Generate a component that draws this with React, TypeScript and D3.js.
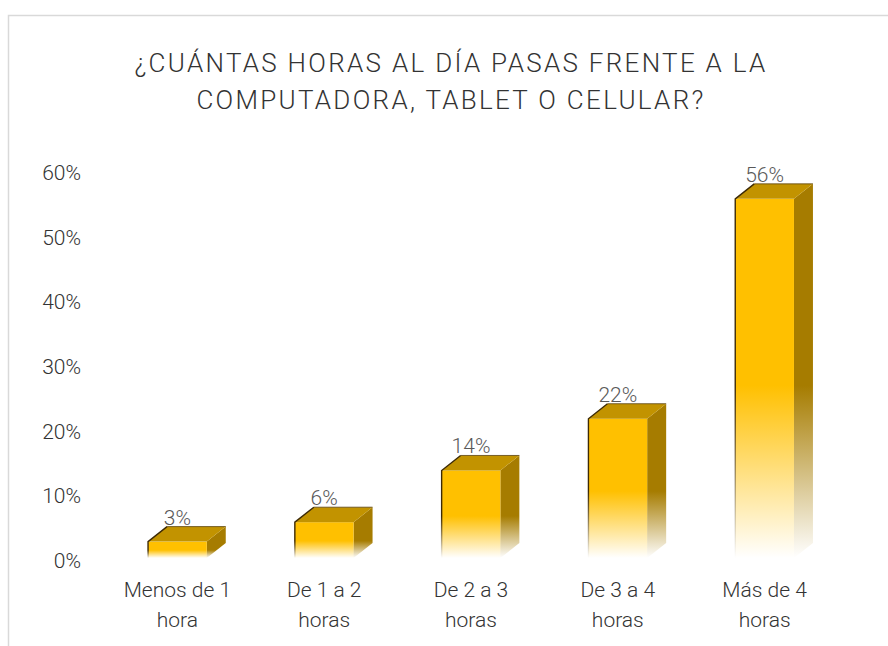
import { useEffect, useRef } from 'react'
import * as d3 from 'd3'

const categories = ['Menos de 1|hora', 'De 1 a 2|horas', 'De 2 a 3|horas', 'De 3 a 4|horas', 'Más de 4|horas']
const values = [0.03, 0.06, 0.14, 0.22, 0.56]
const yTicks = [0, 0.1, 0.2, 0.3, 0.4, 0.5, 0.6]
const titleLines = ['¿CUÁNTAS HORAS AL DÍA PASAS FRENTE A LA', 'COMPUTADORA, TABLET O CELULAR?']

export default function App() {
  const ref = useRef<SVGSVGElement>(null)

  useEffect(() => {
    if (!ref.current) return
    const width = 888
    const height = 646
    const svg = d3.select(ref.current)
    svg.selectAll('*').remove()

    const font = 'Roboto, sans-serif'
    const depth = { dx: 19, dy: -15 }

    const x = d3.scaleBand().domain(categories).range([104, 838]).paddingInner(0.6).paddingOuter(0.3)
    const y = d3.scaleLinear().domain([0, 0.6]).range([561, 173])

    // chart frame
    svg
      .append('rect')
      .attr('x', 8.5)
      .attr('y', 15.5)
      .attr('width', width)
      .attr('height', height)
      .attr('fill', '#fff')
      .attr('stroke', '#d9d9d9')
      .attr('stroke-width', 1.5)

    // title
    svg
      .append('g')
      .selectAll('text')
      .data(titleLines)
      .join('text')
      .attr('x', 451)
      .attr('y', (_, i) => 72 + i * 37)
      .attr('text-anchor', 'middle')
      .style('font-family', font)
      .style('font-weight', 300)
      .style('font-size', '26px')
      .style('letter-spacing', '2.3px')
      .style('fill', '#333')
      .text((d) => d)

    // y axis labels
    svg
      .append('g')
      .selectAll('text')
      .data(yTicks)
      .join('text')
      .attr('x', 81)
      .attr('y', (d) => y(d) + 7)
      .attr('text-anchor', 'end')
      .style('font-family', font)
      .style('font-weight', 300)
      .style('font-size', '21px')
      .style('fill', '#333')
      .text((d) => d3.format('.0%')(d))

    const defs = svg.append('defs')
    const base = y(0) - 3

    const bars = svg.append('g')
    categories.forEach((c, i) => {
      const v = values[i]
      const x0 = x(c) || 0
      const x1 = x0 + x.bandwidth()
      const top = y(v)

      const mk = (id: string, color: string) => {
        const g = defs
          .append('linearGradient')
          .attr('id', id)
          .attr('gradientUnits', 'userSpaceOnUse')
          .attr('x1', 0)
          .attr('x2', 0)
          .attr('y1', top)
          .attr('y2', base)
        g.append('stop').attr('offset', 0).attr('stop-color', color)
        g.append('stop').attr('offset', 0.52).attr('stop-color', color)
        g.append('stop').attr('offset', 1).attr('stop-color', color).attr('stop-opacity', 0)
      }
      mk(`front${i}`, '#FFC000')
      mk(`side${i}`, '#A67C00')
      mk(`edge${i}`, '#3d2a05')

      const bar = bars.append('g')
      // side face
      bar
        .append('path')
        .attr('d', `M${x1},${top}L${x1 + depth.dx},${top + depth.dy}L${x1 + depth.dx},${base + depth.dy}L${x1},${base}Z`)
        .attr('fill', `url(#side${i})`)
      // front face
      bar
        .append('rect')
        .attr('x', x0)
        .attr('y', top)
        .attr('width', x.bandwidth())
        .attr('height', base - top)
        .attr('fill', `url(#front${i})`)
      // top face
      bar
        .append('path')
        .attr('d', `M${x0},${top}L${x0 + depth.dx},${top + depth.dy}L${x1 + depth.dx},${top + depth.dy}L${x1},${top}Z`)
        .attr('fill', '#C29300')
      // dark edges
      bar
        .append('path')
        .attr('d', `M${x0},${base}L${x0},${top}L${x0 + depth.dx},${top + depth.dy}`)
        .attr('fill', 'none')
        .attr('stroke', `url(#edge${i})`)
        .attr('stroke-width', 1.4)
      bar
        .append('path')
        .attr('d', `M${x0 + depth.dx},${top + depth.dy}L${x1 + depth.dx},${top + depth.dy}`)
        .attr('stroke', '#5a4210')
        .attr('stroke-width', 0.8)

      // value label
      bar
        .append('text')
        .attr('x', x0 + x.bandwidth() / 2)
        .attr('y', top + depth.dy - 2)
        .attr('text-anchor', 'middle')
        .style('font-family', font)
        .style('font-weight', 300)
        .style('font-size', '21px')
        .style('fill', '#595959')
        .text(d3.format('.0%')(v))
    })

    // category labels
    svg
      .append('g')
      .selectAll('text')
      .data(categories)
      .join('text')
      .attr('x', (d) => (x(d) || 0) + x.bandwidth() / 2)
      .attr('y', 597)
      .attr('text-anchor', 'middle')
      .style('font-family', font)
      .style('font-weight', 300)
      .style('font-size', '21px')
      .style('fill', '#333')
      .each(function (d) {
        const parts = d.split('|')
        const t = d3.select(this)
        parts.forEach((p, k) => {
          t.append('tspan')
            .attr('x', (x(d) || 0) + x.bandwidth() / 2)
            .attr('dy', k === 0 ? 0 : 30)
            .text(p)
        })
      })
  }, [])

  return <svg ref={ref} width={888} height={646} style={{ position: 'absolute', left: 0, top: 0 }} />
}
